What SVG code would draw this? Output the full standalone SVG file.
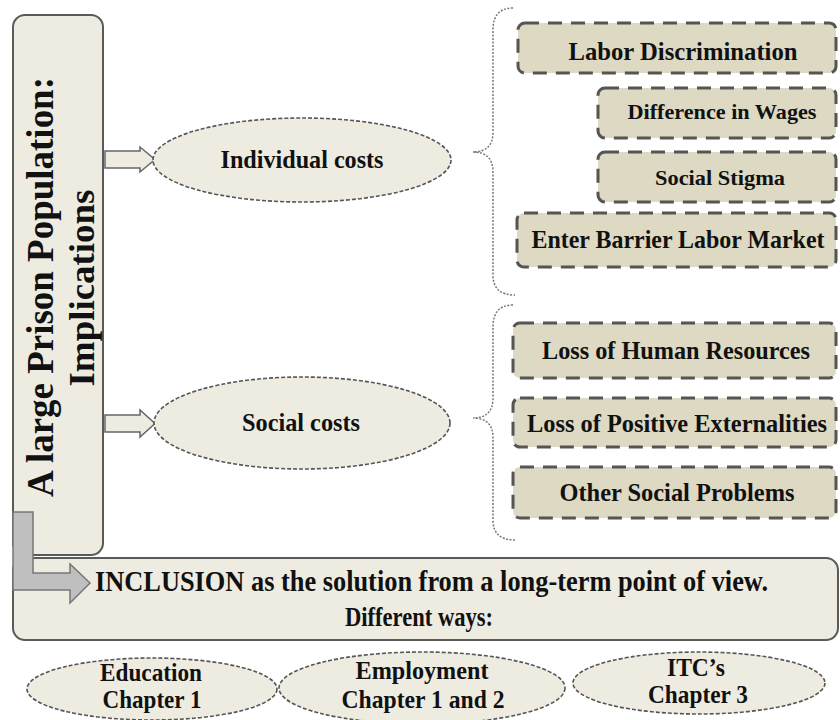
<svg xmlns="http://www.w3.org/2000/svg" width="840" height="720" viewBox="0 0 840 720">
<defs>
<style>
text{font-family:"Liberation Serif","Times New Roman",serif;font-weight:bold;fill:#111;}
.main{fill:#eeece1;stroke:#5a5a5a;stroke-width:2;}
.ell{fill:#eeece1;stroke:#555;stroke-width:1.6;stroke-dasharray:4 2;}
.box{fill:#ddd9c3;stroke:#555;stroke-width:3;stroke-dasharray:14 9;}
.brace{fill:none;stroke:#777;stroke-width:1.5;stroke-dasharray:2 1.5;}
.barrow{fill:#eeece1;stroke:#666;stroke-width:1.5;}
.garrow{fill:#bfbfbf;stroke:#777;stroke-width:1.5;}
.c{text-anchor:middle;}
</style>
</defs>
<rect width="840" height="720" fill="#fff"/>

<g id="bottom-box">
<rect class="main" x="13" y="558" width="825" height="82" rx="12"/>
<text x="95" y="591" font-size="29" textLength="673" lengthAdjust="spacingAndGlyphs">INCLUSION as the solution from a long-term point of view.</text>
<text class="c" x="419" y="626" font-size="28" textLength="148" lengthAdjust="spacingAndGlyphs">Different ways:</text>
</g>

<g id="main-box">
<rect class="main" x="13" y="15" width="90" height="540" rx="12"/>
<text transform="translate(53,287) rotate(-90)" class="c" font-size="37" textLength="420" lengthAdjust="spacingAndGlyphs">A large Prison Population:</text>
<text transform="translate(94,288) rotate(-90)" class="c" font-size="36" textLength="197" lengthAdjust="spacingAndGlyphs">Implications</text>
</g>

<g id="connectors">
<polygon class="barrow" points="105,151 140,151 140,147 155,159.5 140,172 140,168 105,168"/>
<polygon class="barrow" points="105,415 140,415 140,410 155,423.5 140,437 140,432 105,432"/>
<polygon class="garrow" points="13,512 33,512 33,573 70,573 70,564 90,583 70,603 70,590 13,590"/>
<path class="brace" d="M513,8 Q493,8 493,30 L493,132 Q493,152 473,152 Q493,152 493,172 L493,275 Q493,295 515,295"/>
<path class="brace" d="M513,305 Q493,305 493,327 L493,398 Q493,418 473,418 Q493,418 493,438 L493,520 Q493,540 515,540"/>
</g>

<g id="individual-costs">
<ellipse class="ell" cx="302" cy="160" rx="149" ry="42"/>
<text class="c" x="302" y="168" font-size="26" textLength="163" lengthAdjust="spacingAndGlyphs">Individual costs</text>
</g>
<g id="social-costs">
<ellipse class="ell" cx="302" cy="423" rx="148" ry="46"/>
<text class="c" x="301" y="431" font-size="26" textLength="118" lengthAdjust="spacingAndGlyphs">Social costs</text>
</g>

<g id="labor-discrimination">
<rect class="box" x="518" y="23" width="318" height="50" rx="7"/>
<text class="c" x="683" y="60" font-size="25" textLength="229" lengthAdjust="spacingAndGlyphs">Labor Discrimination</text>
</g>
<g id="difference-in-wages">
<rect class="box" x="598" y="88" width="238" height="50" rx="7"/>
<text class="c" x="722" y="119" font-size="21" textLength="189" lengthAdjust="spacingAndGlyphs">Difference in Wages</text>
</g>
<g id="social-stigma">
<rect class="box" x="598" y="152" width="238" height="50" rx="7"/>
<text class="c" x="720" y="185" font-size="22" textLength="130" lengthAdjust="spacingAndGlyphs">Social Stigma</text>
</g>
<g id="enter-barrier">
<rect class="box" x="517" y="213" width="319" height="54" rx="7"/>
<text class="c" x="678" y="248" font-size="25" textLength="293" lengthAdjust="spacingAndGlyphs">Enter Barrier Labor Market</text>
</g>
<g id="loss-human">
<rect class="box" x="513" y="323" width="323" height="55" rx="7"/>
<text class="c" x="676" y="359" font-size="25" textLength="268" lengthAdjust="spacingAndGlyphs">Loss of Human Resources</text>
</g>
<g id="loss-externalities">
<rect class="box" x="513" y="398" width="323" height="49" rx="7"/>
<text class="c" x="677" y="432" font-size="25" textLength="300" lengthAdjust="spacingAndGlyphs">Loss of Positive Externalities</text>
</g>
<g id="other-social">
<rect class="box" x="513" y="467" width="323" height="51" rx="7"/>
<text class="c" x="677" y="501" font-size="25" textLength="235" lengthAdjust="spacingAndGlyphs">Other Social Problems</text>
</g>

<g id="education">
<ellipse class="ell" cx="152" cy="689" rx="125" ry="31"/>
<text class="c" x="151" y="681" font-size="25" textLength="102" lengthAdjust="spacingAndGlyphs">Education</text>
<text class="c" x="152" y="708" font-size="25" textLength="99" lengthAdjust="spacingAndGlyphs">Chapter 1</text>
</g>
<g id="employment">
<ellipse class="ell" cx="422" cy="688" rx="143" ry="36"/>
<text class="c" x="422" y="679" font-size="25" textLength="133" lengthAdjust="spacingAndGlyphs">Employment</text>
<text class="c" x="423" y="708" font-size="25" textLength="163" lengthAdjust="spacingAndGlyphs">Chapter 1 and 2</text>
</g>
<g id="itcs">
<ellipse class="ell" cx="699" cy="683" rx="126" ry="31"/>
<text class="c" x="696" y="676" font-size="25" textLength="58" lengthAdjust="spacingAndGlyphs">ITC’s</text>
<text class="c" x="698" y="703" font-size="25" textLength="100" lengthAdjust="spacingAndGlyphs">Chapter 3</text>
</g>
</svg>
